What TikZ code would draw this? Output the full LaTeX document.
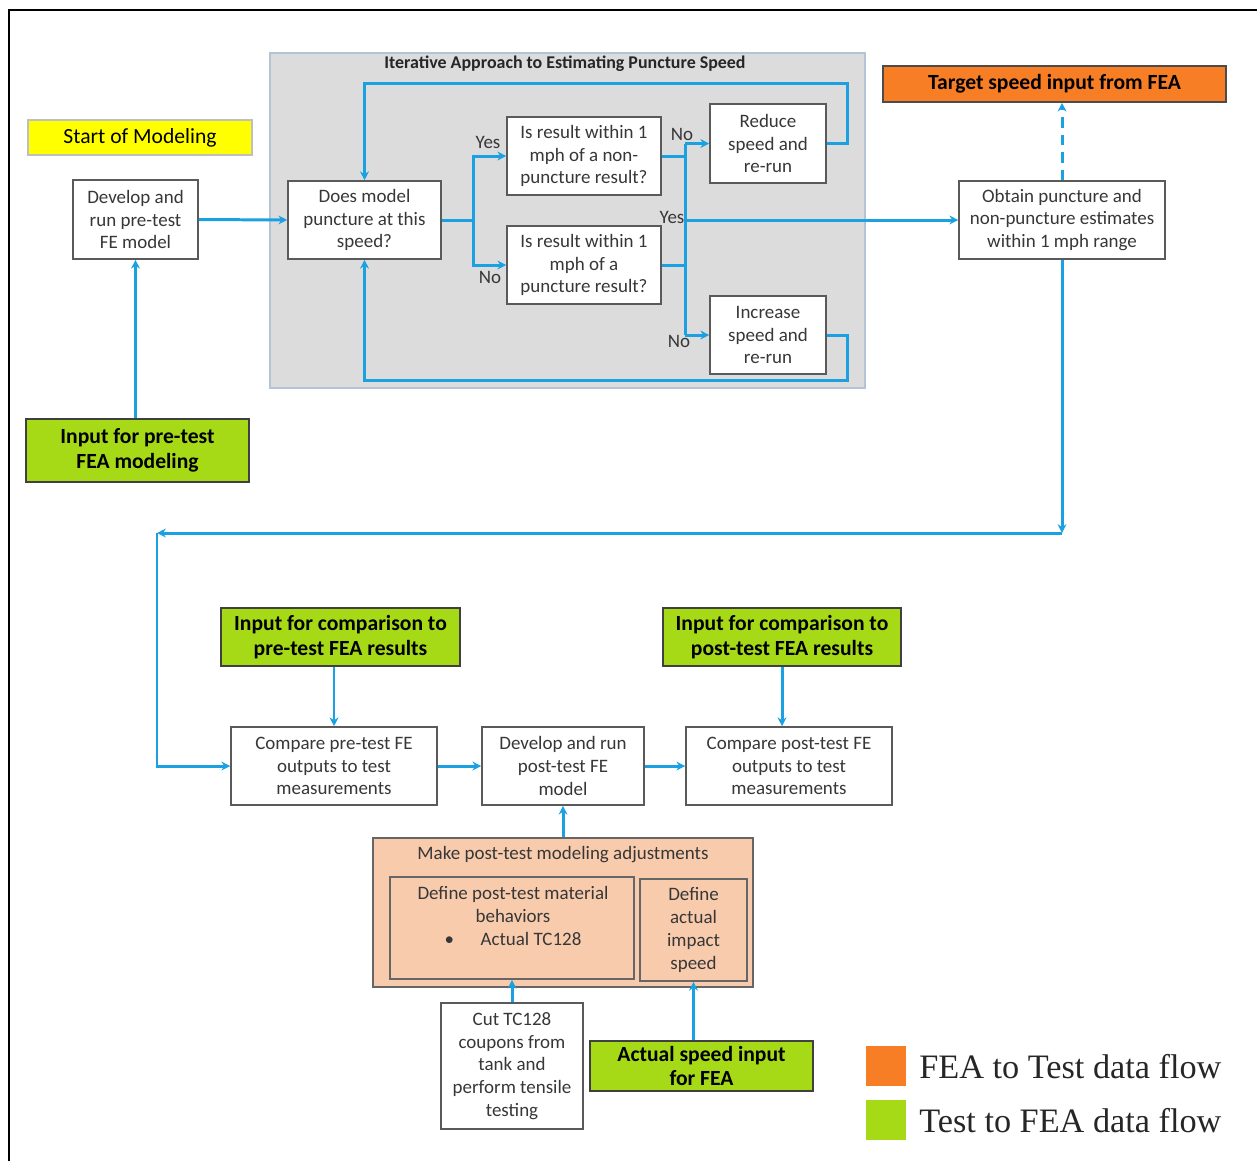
\documentclass[tikz,border=0pt]{standalone}
\usepackage{fontspec}
\setmainfont{Carlito}
\newfontfamily\legendfont{Liberation Serif}
\usetikzlibrary{arrows.meta,calc}
\definecolor{conncol}{RGB}{27,161,226}
\definecolor{txtgray}{RGB}{55,55,55}
\definecolor{boxgray}{RGB}{90,90,90}
\definecolor{panelgray}{RGB}{220,220,220}
\definecolor{panelborder}{RGB}{180,196,212}
\definecolor{startyellow}{RGB}{255,255,0}
\definecolor{testgreen}{RGB}{166,218,22}
\definecolor{feaorange}{RGB}{247,126,36}
\definecolor{adjsalmon}{RGB}{248,203,173}
\tikzset{
  plainbox/.style={draw=boxgray, line width=0.9pt, fill=white, align=center, inner sep=0pt,
    text=txtgray, font=\fontsize{10.8}{13}\selectfont},
  greenbox/.style={draw=black!75, line width=0.9pt, fill=testgreen, align=center, inner sep=0pt,
    font=\fontsize{12.3}{14}\selectfont\bfseries},
  orangebox/.style={draw=black!70, line width=0.9pt, fill=feaorange, align=center, inner sep=0pt,
    font=\fontsize{12.3}{14}\selectfont\bfseries},
  yellowbox/.style={draw=black!25, line width=0.6pt, fill=startyellow, align=center, inner sep=0pt,
    font=\fontsize{12.3}{14}\selectfont},
  salmonbox/.style={draw=black!60, line width=0.9pt, fill=adjsalmon, inner sep=0pt},
  lbl/.style={text=txtgray, font=\fontsize{10.8}{13}\selectfont, inner sep=0pt},
  conn/.style={draw=conncol, line width=1.7pt},
  arr/.style={conn, -{Stealth[length=5pt,width=5pt]}},
  legtext/.style={anchor=west, inner sep=0pt, text=black!85, font=\legendfont\fontsize{19.5}{22}\selectfont}
}
\begin{document}
\begin{tikzpicture}[x=0.02cm,y=-0.02cm]
\useasboundingbox (0,0) rectangle (1257,1161);
% frame
\draw[line width=1.2pt, black] (9,1161) -- (9,10) -- (1257,10);
% gray panel
\node[draw=panelborder, fill=panelgray, line width=1pt, minimum width=11.9cm, minimum height=6.7cm, inner sep=0pt] (panel) at (567.5,220.5) {};
\node[font=\fontsize{10.2}{12}\selectfont\bfseries, text=black!85, inner sep=0pt] (ptitle) at (565,64) {Iterative Approach to Estimating Puncture Speed};

% nodes
\node[yellowbox, minimum width=4.48cm, minimum height=0.70cm] (start) at (140,137.5) {Start of Modeling};
\node[plainbox, minimum width=2.5cm, minimum height=1.58cm] (devpre) at (135.5,219.5) {Develop and\\run pre-test\\FE model};
\node[greenbox, minimum width=4.46cm, minimum height=1.26cm] (inpre) at (137.5,450.5) {Input for pre-test\\FEA modeling};
\node[plainbox, minimum width=3.06cm, minimum height=1.56cm] (does) at (364.5,220) {Does model\\puncture at this\\speed?};
\node[plainbox, minimum width=3.08cm, minimum height=1.56cm] (nonp) at (584,156) {Is result within 1\\mph of a non-\\puncture result?};
\node[plainbox, minimum width=3.08cm, minimum height=1.56cm] (punc) at (584,265) {Is result within 1\\mph of a\\puncture result?};
\node[plainbox, minimum width=2.32cm, minimum height=1.58cm] (reduce) at (768,143.5) {Reduce\\speed and\\re-run};
\node[plainbox, minimum width=2.32cm, minimum height=1.56cm] (incr) at (768,335) {Increase\\speed and\\re-run};
\node[orangebox, minimum width=6.86cm, minimum height=0.72cm] (target) at (1054.5,84) {Target speed input from FEA};
\node[plainbox, minimum width=4.12cm, minimum height=1.56cm] (obtain) at (1062,220) {Obtain puncture and\\non-puncture estimates\\within 1 mph range};
\node[greenbox, minimum width=4.78cm, minimum height=1.16cm] (incmppre) at (340.5,637) {Input for comparison to\\pre-test FEA results};
\node[greenbox, minimum width=4.76cm, minimum height=1.16cm] (incmppost) at (782,637) {Input for comparison to\\post-test FEA results};
\node[plainbox, minimum width=4.12cm, minimum height=1.56cm] (cmppre) at (334,766) {Compare pre-test FE\\outputs to test\\measurements};
\node[plainbox, minimum width=3.24cm, minimum height=1.56cm] (devpost) at (563,766) {Develop and run\\post-test FE\\model};
\node[plainbox, minimum width=4.12cm, minimum height=1.56cm] (cmppost) at (789,766) {Compare post-test FE\\outputs to test\\measurements};
\node[salmonbox, minimum width=7.6cm, minimum height=2.98cm] (adj) at (563,912.5) {};
\node[lbl] (adjtitle) at (563,855) {Make post-test modeling adjustments};
\node[salmonbox, minimum width=4.88cm, minimum height=2.04cm] (mat) at (512,928) {};
\node[lbl, align=center] (mattext) at (513,916) {Define post-test material\\behaviors\\\textbullet\hspace{1.4em}Actual TC128};
\node[salmonbox, minimum width=2.14cm, minimum height=2.04cm, align=center, text=txtgray, font=\fontsize{10.8}{13}\selectfont] (impact) at (693.5,930) {Define\\actual\\impact\\speed};
\node[plainbox, minimum width=2.84cm, minimum height=2.52cm] (cut) at (512,1066) {Cut TC128\\coupons from\\tank and\\perform tensile\\testing};
\node[greenbox, minimum width=4.46cm, minimum height=1.0cm] (actual) at (701.5,1066) {Actual speed input\\for FEA};

% legend
\node[fill=feaorange, minimum width=0.8cm, minimum height=0.8cm, inner sep=0pt] (legor) at (886,1066) {};
\node[fill=testgreen, minimum width=0.8cm, minimum height=0.8cm, inner sep=0pt] (leggr) at (886,1120) {};
\node[legtext] (legortext) at (919,1067) {FEA to Test data flow};
\node[legtext] (leggrtext) at (919,1121) {Test to FEA data flow};

% coordinates
\coordinate (j1) at (473,220);
\coordinate (vtop) at (685,143.5);
\coordinate (vbot) at (685,335);
\coordinate (rt) at (847,83);
\coordinate (topc) at (364.5,83);
\coordinate (rb) at (847,380);
\coordinate (botc) at (364.5,380);
\coordinate (c1) at (1062,533);
\coordinate (c2) at (157,533);

% connectors in panel
\draw[arr] (devpre.east) -- (does.west);
\draw[conn] (does.east) -- (j1);
\draw[arr] (j1) |- (nonp.west);
\draw[arr] (j1) |- (punc.west);
\draw[conn] (nonp.east) -- (nonp.east -| vtop);
\draw[conn] (punc.east) -- (punc.east -| vtop);
\draw[conn] (vtop) -- (vbot);
\draw[arr] (vtop) -- (reduce.west);
\draw[arr] (vbot) -- (incr.west);
\draw[arr] (vtop |- obtain.west) -- (obtain.west);
\draw[arr] (reduce.east) -| (rt) -- (topc) -- (does.north);
\draw[arr] (incr.east) -| (rb) -- (botc) -- (does.south);

% labels
\node[lbl] (yes1) at (488,142) {Yes};
\node[lbl] (no1) at (490,277) {No};
\node[lbl] (no2) at (682,134) {No};
\node[lbl] (yes2) at (672,217) {Yes};
\node[lbl] (no3) at (679,341) {No};

% other connectors
\draw[arr] (inpre.north -| devpre.south) -- (devpre.south);
\draw[arr, dashed, dash pattern=on 6pt off 4pt] (obtain.north) -- (obtain.north |- target.south);
\draw[arr] (obtain.south) -- (c1);
\draw[arr] (c1) -- (c2);
\draw[arr] (c2) |- (cmppre.west);
\draw[arr] (incmppre.south -| cmppre.north) -- (cmppre.north);
\draw[arr] (incmppost.south) -- (incmppost.south |- cmppost.north);
\draw[arr] (cmppre.east) -- (devpost.west);
\draw[arr] (devpost.east) -- (cmppost.west);
\draw[arr] (adj.north) -- (devpost.south);
\draw[arr] (cut.north) -- (mat.south);
\draw[arr] (impact.south |- actual.north) -- (impact.south);
\end{tikzpicture}
\end{document}
